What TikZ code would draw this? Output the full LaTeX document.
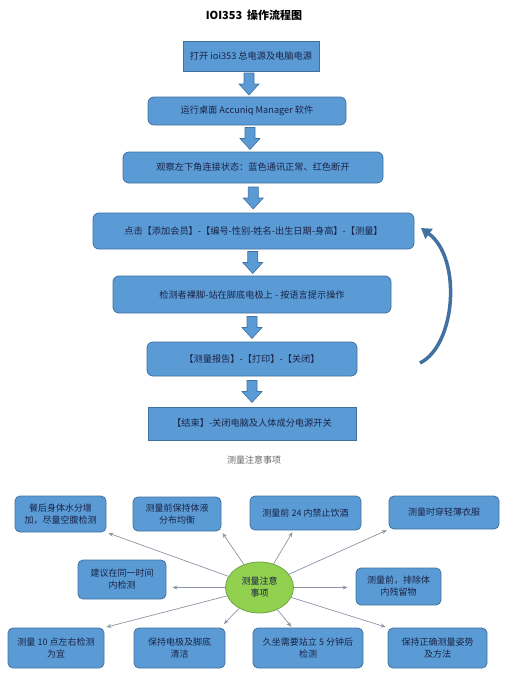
\documentclass[tikz,border=0pt]{standalone}
\usepackage{fontspec}
\setmainfont{Noto Sans CJK SC}
\usetikzlibrary{calc,arrows.meta,shapes.geometric}

\definecolor{boxblue}{RGB}{91,155,213}
\definecolor{boxline}{RGB}{65,113,160}
\definecolor{textnavy}{RGB}{25,35,70}
\definecolor{hubgreen}{RGB}{146,208,80}
\definecolor{hubline}{RGB}{110,165,70}
\definecolor{linkgray}{RGB}{140,150,165}

\tikzset{
  flowbox/.style={draw=boxline, fill=boxblue, rounded corners=6pt, line width=0.8pt,
    text=textnavy, font=\fontsize{9.2}{11}\selectfont, inner sep=0pt},
  flowrect/.style={flowbox, rounded corners=0pt},
  downarrow/.pic={
    \draw[boxline, fill=boxblue, line width=0.6pt, line join=miter]
      (-5,-11) -- (5,-11) -- (5,0) -- (10,0) -- (0,11) -- (-10,0) -- (-5,0) -- cycle;
  },
  notebox/.style={draw=boxline, fill=boxblue, rounded corners=5pt, line width=0.8pt,
    text=textnavy, font=\fontsize{9}{12}\selectfont, align=center, inner sep=0pt},
  hub/.style={ellipse, draw=hubline, fill=hubgreen, line width=0.8pt, text=textnavy,
    font=\fontsize{9}{12}\selectfont, align=center, minimum width=68pt, minimum height=51pt, inner sep=0pt},
  notelink/.style={draw=linkgray, line width=0.7pt, -{Stealth[length=5pt,width=4pt]}, shorten >=2pt},
  loopline/.style={draw=boxline, line width=3.5pt, -{Triangle[length=10pt,width=12pt]}}
}

\begin{document}
\begin{tikzpicture}[x=1pt,y=-1pt]
  %%%%% START %%%%%
  \useasboundingbox[fill=white] (0,0) rectangle (507,681);

  \node[font=\fontsize{11}{13}\selectfont\bfseries] (title) at (254,15) {IOI353\ \ 操作流程图};

  % flow steps
  \node[flowrect, minimum width=136pt, minimum height=30pt] (open) at (251,56) {打开 ioi353 总电源及电脑电源};
  \node[flowbox, minimum width=198pt, minimum height=28pt] (run) at (247,111) {运行桌面 Accuniq Manager 软件};
  \node[flowbox, minimum width=260pt, minimum height=31pt] (check) at (253,167.5) {观察左下角连接状态：蓝色通讯正常、红色断开};
  \node[flowbox, minimum width=321pt, minimum height=36pt] (member) at (253.5,231) {点击【添加会员】-【编号-性别-姓名-出生日期-身高】-【测量】};
  \node[flowbox, minimum width=278pt, minimum height=37pt] (stand) at (252,294.5) {检测者裸脚-站在脚底电极上 - 按语言提示操作};
  \node[flowbox, minimum width=210pt, minimum height=34pt] (report) at (252,359) {【测量报告】-【打印】-【关闭】};
  \node[flowrect, minimum width=208pt, minimum height=33pt] (finish) at (252,423.5) {【结束】-关闭电脑及人体成分电源开关};

  \pic (a1) at ($(open.south)!0.5!(run.north)$) {downarrow};
  \pic (a2) at ($(run.south)!0.5!(check.north)$) {downarrow};
  \pic (a3) at ($(check.south)!0.5!(member.north)$) {downarrow};
  \pic (a4) at ($(member.south)!0.5!(stand.north)$) {downarrow};
  \pic (a5) at ($(stand.south)!0.5!(report.north)$) {downarrow};
  \pic (a6) at ($(report.south)!0.5!(finish.north)$) {downarrow};

  % loop back
  \coordinate (loopstart) at (420,363);
  \coordinate (loopend) at (421,228);
  \draw[loopline] (loopstart) .. controls (456,345) and (462,258) .. (loopend);

  \node[text=black!60, font=\fontsize{9}{11}\selectfont] (notes) at (254,460) {测量注意事项};

  % notes map
  \node[hub] (core) at (259.5,587.5) {测量注意\\事项};

  \node[notebox, minimum width=91pt, minimum height=36pt] (note1) at (60.5,514) {餐后身体水分增\\加，尽量空腹检测};
  \node[notebox, minimum width=88pt, minimum height=34pt] (note2) at (177,514) {测量前保持体液\\分布均衡};
  \node[notebox, minimum width=111pt, minimum height=34pt] (note3) at (305.5,513) {测量前 24 内禁止饮酒};
  \node[notebox, minimum width=110pt, minimum height=33pt] (note4) at (444,512.5) {测量时穿轻薄衣服};
  \node[notebox, minimum width=88pt, minimum height=39pt] (note5) at (122,579.5) {建议在同一时间\\内检测};
  \node[notebox, minimum width=85pt, minimum height=37pt] (note6) at (398.5,586.5) {测量前，排除体\\内残留物};
  \node[notebox, minimum width=96pt, minimum height=40pt] (note7) at (56,648) {测量 10 点左右检测\\为宜};
  \node[notebox, minimum width=91pt, minimum height=40pt] (note8) at (179.5,648) {保持电极及脚底\\清洁};
  \node[notebox, minimum width=110pt, minimum height=40pt] (note9) at (308,648) {久坐需要站立 5 分钟后\\检测};
  \node[notebox, minimum width=99pt, minimum height=40pt] (note10) at (437.5,648) {保持正确测量姿势\\及方法};

  \draw[notelink] (core) -- (note1.south east);
  \draw[notelink] (core) -- (note2.south east);
  \draw[notelink] (core) -- ([xshift=-12pt]note3.south);
  \draw[notelink] (core) -- (note4.south west);
  \draw[notelink, shorten >=6pt] (core) -- (note5.east |- core);
  \draw[notelink, shorten >=8pt] (core) -- (note6.west |- core);
  \draw[notelink] (core) -- (note7.north east);
  \draw[notelink, shorten >=5pt] (core) -- ([xshift=-5pt]note8.north east);
  \draw[notelink, shorten >=1pt] (core) -- ([xshift=-16pt]note9.north);
  \draw[notelink] (core) -- (note10.north west);
  %%%%% END %%%%%
\end{tikzpicture}
\end{document}
